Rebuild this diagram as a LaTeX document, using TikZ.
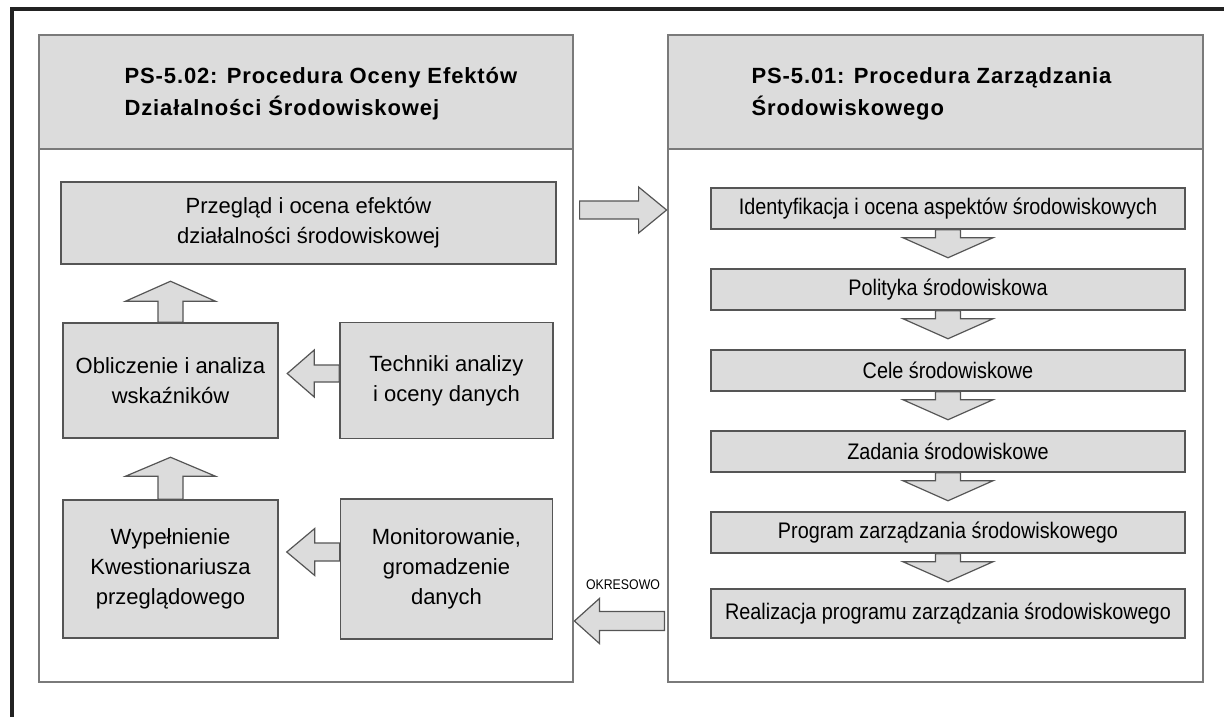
\documentclass[tikz,border=0pt]{standalone}
\usepackage{fontspec}
\setmainfont{Liberation Sans}
\newfontfamily\narrowfont{Liberation Sans}[FakeStretch=0.88]
\usetikzlibrary{positioning, calc}

\definecolor{boxgray}{HTML}{DCDCDC}
\definecolor{boxline}{HTML}{555555}
\definecolor{panelline}{HTML}{7A7A7A}
\definecolor{framedark}{HTML}{222222}

\begin{document}
\begin{tikzpicture}[x=1pt, y=-1pt, node distance=81pt, on grid,
        panel/.style={draw=panelline, fill=white, line width=1.2pt, minimum width=534pt, minimum height=647pt, inner sep=0pt},
        header/.style={draw=panelline, fill=boxgray, line width=1.2pt, minimum width=534pt, minimum height=114pt, inner sep=0pt},
        htext/.style={anchor=west, align=left, inner sep=0pt, font=\bfseries\fontsize{22}{32}\selectfont\addfontfeature{LetterSpace=4}},
        box/.style={draw=boxline, fill=boxgray, line width=1.5pt, align=center, inner sep=0pt, font=\fontsize{22}{30}\selectfont},
        rbox/.style={box, minimum width=474pt, minimum height=41pt, font=\narrowfont\fontsize{22.5}{24}\selectfont},
        barrow/.style={draw=boxline, fill=boxgray, line width=1.2pt},
        pics/blockarrow/.style n args={4}{code={
                \draw[barrow] (0,-#4) -- ({#1-#2},-#4) -- ({#1-#2},-#3) -- (#1,0)
                    -- ({#1-#2},#3) -- ({#1-#2},#4) -- (0,#4) -- cycle;
        }}]
        \useasboundingbox (0,0) rectangle (1224,717);
        \draw[line width=4pt, framedark] (1224,9.5) -- (11.5,9.5) -- (11.5,717);

        % panels
        \node[panel] (lpanel) at (306,358.5) {};
        \node[header, anchor=north] (lhead) at (lpanel.north) {};
        \node[htext] (ltitle) at ($(lhead.west)+(86,2)$) {PS-5.02: Procedura Oceny Efektów\\Działalności Środowiskowej};
        \node[panel, minimum width=535pt] (rpanel) at (935.5,358.5) {};
        \node[header, minimum width=535pt, anchor=north] (rhead) at (rpanel.north) {};
        \node[htext] (rtitle) at ($(rhead.west)+(84,2)$) {PS-5.01: Procedura Zarządzania\\Środowiskowego};

        % left column
        \node[box, minimum width=495pt, minimum height=82pt] (przeglad) at (308.5,223) {Przegląd i ocena efektów\\działalności środowiskowej};
        \node[box, minimum width=215pt, minimum height=115pt] (oblicz) at (170.5,380.5) {Obliczenie i analiza\\wskaźników};
        \node[box, minimum width=213pt, minimum height=116pt, right=276pt of oblicz] (techniki) {Techniki analizy\\i oceny danych};
        \node[box, minimum width=215pt, minimum height=138pt, below=188.5pt of oblicz] (wypeln) {Wypełnienie\\Kwestionariusza\\przeglądowego};
        \node[box, minimum width=212pt, minimum height=140pt, right=276pt of wypeln] (monitor) {Monitorowanie,\\gromadzenie\\danych};

        % right column
        \node[rbox] (ident) at (948,208.5) {Identyfikacja i ocena aspektów środowiskowych};
        \node[rbox, below=of ident] (polityka) {Polityka środowiskowa};
        \node[rbox, below=of polityka] (cele) {Cele środowiskowe};
        \node[rbox, below=of cele] (zadania) {Zadania środowiskowe};
        \node[rbox, below=of zadania] (program) {Program zarządzania środowiskowego};
        \node[rbox, minimum height=49pt, below=of program] (realiz) {Realizacja programu zarządzania środowiskowego};

        \foreach \a in {ident, polityka, cele, zadania, program}
            \pic[rotate=-90] at (\a.south) {blockarrow={28}{20}{45}{12.5}};

        \pic[rotate=90] at (oblicz.north) {blockarrow={41}{20}{45}{12.5}};
        \pic[rotate=90] at (wypeln.north) {blockarrow={42}{19}{45}{12.5}};
        \pic[rotate=180] at ($(techniki.west)+(0,-7)$) {blockarrow={52}{27}{23.5}{8.5}};
        \pic[rotate=180] at ($(monitor.west)+(0,-17)$) {blockarrow={53}{28}{23.5}{9}};

        % between panels
        \pic at ($(lpanel.east |- ident)+(6,1.5)$) {blockarrow={87}{28}{23}{9}};
        \pic[rotate=180] at ($(rpanel.west |- realiz)+(-3,7.5)$) {blockarrow={90}{25}{22.5}{9.5}};
        \node[font=\narrowfont\fontsize{14}{16}\selectfont] (okres) at (623,585) {OKRESOWO};
\end{tikzpicture}
\end{document}
